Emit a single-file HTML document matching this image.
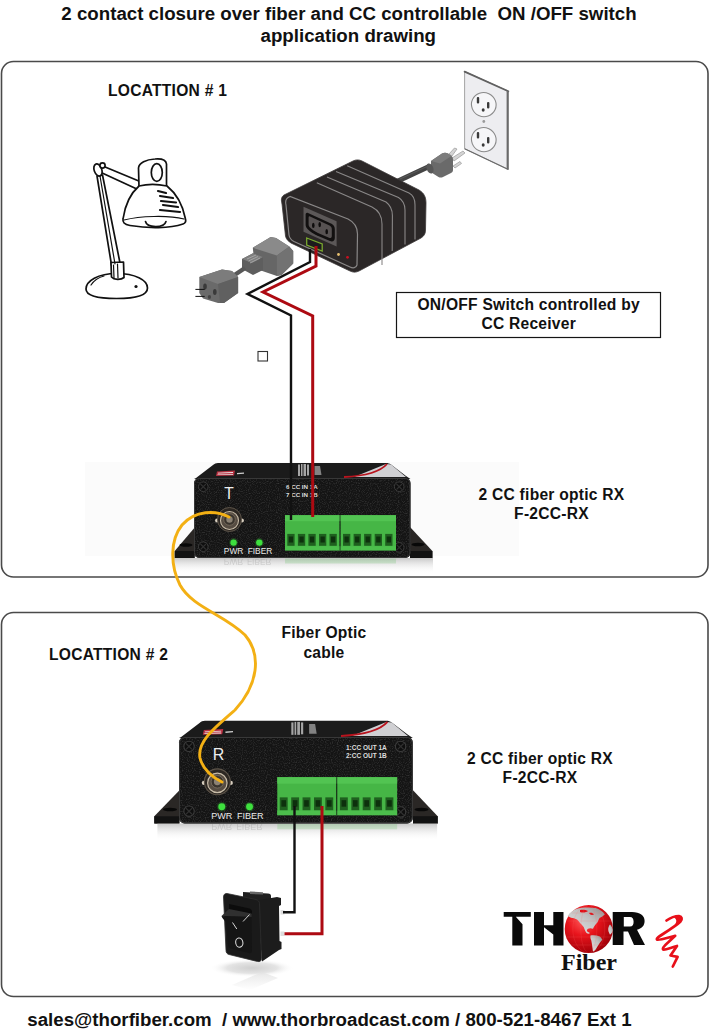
<!DOCTYPE html>
<html><head><meta charset="utf-8">
<style>
html,body{margin:0;padding:0;background:#fff;width:709px;height:1032px;overflow:hidden}
svg{display:block}
text{white-space:pre;font-family:"Liberation Sans",sans-serif;font-weight:bold;fill:#111}
</style></head><body>
<svg width="709" height="1032" viewBox="0 0 709 1032">
<rect x="0" y="0" width="709" height="1032" fill="#fff"/>
<defs>
<linearGradient id="refl" x1="0" y1="0" x2="0" y2="1"><stop offset="0" stop-color="#9a9a9a" stop-opacity="0.55"/><stop offset="1" stop-color="#fff" stop-opacity="0"/></linearGradient>
<radialGradient id="bncg" cx="0.45" cy="0.4" r="0.6"><stop offset="0" stop-color="#d8d0c4"/><stop offset="0.5" stop-color="#8a7f72"/><stop offset="1" stop-color="#3a3630"/></radialGradient>
<radialGradient id="ledg" cx="0.5" cy="0.5" r="0.5"><stop offset="0" stop-color="#b8ffb0"/><stop offset="0.5" stop-color="#3ad43a"/><stop offset="1" stop-color="#1a7a1a" stop-opacity="0.3"/></radialGradient>
<filter id="noise" x="0" y="0" width="100%" height="100%"><feTurbulence type="fractalNoise" baseFrequency="0.9" numOctaves="1" seed="3" result="t"/><feColorMatrix in="t" type="matrix" values="0 0 0 0 0.25  0 0 0 0 0.25  0 0 0 0 0.25  0 0 0 1.6 -0.75" result="n"/><feComposite in="n" in2="SourceGraphic" operator="in"/></filter>
</defs>

<rect x="85" y="462" width="434" height="94" fill="#fbfbfb"/>
<!-- title -->
<text x="349" y="20" font-size="18.7" text-anchor="middle">2 contact closure over fiber and CC controllable  ON /OFF switch</text>
<text x="348.3" y="42" font-size="18.7" text-anchor="middle">application drawing</text>
<!-- boxes -->
<rect x="1.5" y="61.5" width="706.5" height="515.5" rx="12" fill="none" stroke="#4a4a4a" stroke-width="1.6"/>
<rect x="1.5" y="612.5" width="706.5" height="384" rx="12" fill="none" stroke="#4a4a4a" stroke-width="1.6"/>
<!-- labels -->
<text x="108" y="96" font-size="15.6" letter-spacing="0.25">LOCATTION # 1</text>
<rect x="396.5" y="292.5" width="264" height="45" fill="#fff" stroke="#151515" stroke-width="1.2"/>
<text x="528.7" y="309.5" font-size="15.6" letter-spacing="0.25" text-anchor="middle">ON/OFF Switch controlled by</text>
<text x="528.7" y="329" font-size="15.6" letter-spacing="0.25" text-anchor="middle">CC Receiver</text>
<text x="551.5" y="500" font-size="15.6" letter-spacing="0.25" text-anchor="middle">2 CC fiber optic RX</text>
<text x="551.5" y="519" font-size="15.6" letter-spacing="0.25" text-anchor="middle">F-2CC-RX</text>
<text x="49" y="660" font-size="15.6" letter-spacing="0.25">LOCATTION # 2</text>
<text x="324" y="638.2" font-size="15.6" letter-spacing="0.25" text-anchor="middle">Fiber Optic</text>
<text x="324" y="657.6" font-size="15.6" letter-spacing="0.25" text-anchor="middle">cable</text>
<text x="540" y="763.5" font-size="15.6" letter-spacing="0.25" text-anchor="middle">2 CC fiber optic RX</text>
<text x="540" y="782.5" font-size="15.6" letter-spacing="0.25" text-anchor="middle">F-2CC-RX</text>


<!-- wall outlet -->
<polygon points="464.6,71.4 508.3,91.1 508.3,169.4 464.6,148.7" fill="#ededf0" stroke="#9a9a9a" stroke-width="0.9" stroke-linejoin="round"/>
<line x1="464.6" y1="71.6" x2="508.3" y2="91.3" stroke="#606060" stroke-width="1.8" stroke-linecap="round"/>
<line x1="507.6" y1="91.1" x2="507.6" y2="169.4" stroke="#6a6a6a" stroke-width="2"/>
<line x1="464.6" y1="148.7" x2="508.3" y2="169.4" stroke="#6a6a6a" stroke-width="1.1"/>
<g fill="#f6f6f8" stroke="#8a8a8a" stroke-width="1.1">
 <ellipse cx="483.8" cy="104.6" rx="12.4" ry="12" transform="rotate(25 483.8 104.6)"/>
 <ellipse cx="483.8" cy="139.6" rx="12.4" ry="12" transform="rotate(25 483.8 139.6)"/>
</g>
<g fill="#3a3a3a">
 <rect x="476.8" y="97" width="2.4" height="6.5" rx="1.1"/><rect x="487" y="102" width="2.4" height="6.5" rx="1.1"/><ellipse cx="483.2" cy="110" rx="1.5" ry="1.8"/>
 <rect x="476.8" y="132" width="2.4" height="6.5" rx="1.1"/><rect x="487" y="137" width="2.4" height="6.5" rx="1.1"/><ellipse cx="483.2" cy="145" rx="1.5" ry="1.8"/>
</g>
<circle cx="483.8" cy="121.5" r="1.4" fill="#9a9a9a"/>
<!-- plug + cord to wall -->
<g fill="#d4d4d4" stroke="#9a9a9a" stroke-width="0.7">
 <polygon points="449,154 454.5,148 457,149 452,156"/>
 <polygon points="452,158 463,151 465,153 454,161"/>
 <polygon points="453,166 460,161.5 461.5,163.5 455,168"/>
</g>
<line x1="398" y1="181" x2="428" y2="167" stroke="#444" stroke-width="5.2" stroke-linecap="round"/>
<line x1="400" y1="179" x2="427" y2="166.5" stroke="#6a6a6a" stroke-width="1" opacity="0.6"/>
<path d="M431,161 L442,153.5 C444,152.5 446,152.5 448,153.5 L451.5,156 C452.8,157 453,158.5 453,160 L453,170 C453,171.5 452,172.5 451,173 L443,177 C441.5,177.8 440,177.8 438.5,177 L433,173.5 C431.5,172.5 431,171 431,169.5 Z" fill="#6a6a6a"/>
<path d="M431,161 L442,153.5 C444,152.5 446,152.5 448,153.5 L451.5,156 L440,163.5 Z" fill="#7c7c7c"/>
<ellipse cx="430" cy="168.5" rx="3.3" ry="5.3" transform="rotate(-20 430 168.5)" fill="#585858"/>
<!-- power adapter -->
<path d="M284,195 C281,197 281,200 282,204 L285.5,236 C286,239 288,241 291,243 L350,271 C353,272.5 356,272.5 359,271 L421,238 C424,236 425.5,234 425.5,230 L426,203 C426,197 424,193 419,190 L362,161 C359,159.5 356,159.5 353,161 Z" fill="#2b2727" stroke="#3e3a3a" stroke-width="0.8"/>
<path d="M290,196.5 C286,198 285,201 286,205 L289,235 C289.5,238 291,240 294,241.5 L350,267 C353,268.5 356,268 357,265 L357.5,234 C357.5,227 354,222 348,219 Z" fill="none" stroke="#8a8888" stroke-width="1.2"/>
<g fill="none" stroke="#8a8888" stroke-width="1.1">
 <path d="M316.8,182.7 L372,207 C378,210 382,216 382,224 L382,265"/>
 <path d="M327,177 L386,202 C390,205 392.4,209 392.4,215.5 L392.2,251"/>
 <path d="M336,171.4 L398.5,197.5 C402.5,200 405,204 405,210 L405,244.5"/>
 <path d="M347.2,165.8 L409,193 C413,195 415,199 415,205 L415,239.5"/>
</g>
<polygon points="303.5,206.7 336.6,221.2 336.6,246.5 303.5,231.7" fill="#5c5858"/>
<path d="M308,213 L331,223.5 C333.5,224.7 334.8,226.5 334.8,229 L334.8,238 C334.8,241 332.5,242 330,241 L317,235.5 C314,234.2 310,231.5 307.5,229 C306,227.5 305.6,226 305.6,224 L305.6,215 C305.6,213.2 306.5,212.4 308,213 Z" fill="#121010"/>
<path d="M310,216.5 L329.5,225.5 C331,226.2 331.8,227.5 331.8,229 L331.8,236 C331.8,237.8 330.5,238.4 329,237.8 L318,233 C315,231.7 312,229.5 310,227.5 C309,226.5 308.6,225.5 308.6,224.2 L308.6,217.5 C308.6,216.5 309.2,216.1 310,216.5 Z" fill="#575252"/>
<g fill="#0e0c0c"><ellipse cx="313.3" cy="225.4" rx="1.3" ry="2.6"/><ellipse cx="319.7" cy="224.6" rx="1.3" ry="2.6"/><ellipse cx="326.7" cy="231.7" rx="1.3" ry="2.6"/></g>
<polygon points="306.7,238 322.2,244 322.2,251 306.7,245" fill="#1c1c1c" stroke="#7aa830" stroke-width="1.3"/>
<circle cx="338.5" cy="254.5" r="1.4" fill="#e8c070"/>
<circle cx="347.5" cy="257.3" r="1.4" fill="#c81020"/>
<!-- gray connectors -->
<polygon points="252.8,247.8 270.7,237 276,238 289.3,246.5 293.2,251 293.2,263.4 281.5,275 276.9,276 255,268.5" fill="#666"/>
<polygon points="252.8,247.8 270.7,237 276,238 289.3,246.5 276.9,255.6" fill="#8a8a8a"/>
<polygon points="276.9,255.6 289.3,246.5 293.2,251 293.2,263.4 281.5,275 276.9,276" fill="#727272"/>
<polygon points="242,259 253,253.3 263,257 263,270 253,275 242,269" fill="#5e5e5e"/>
<polygon points="242,259 253,253.3 263,257 252,263" fill="#7e7e7e"/>
<g stroke="#a8a8a8" stroke-width="0.9"><line x1="247" y1="259" x2="256" y2="255"/><line x1="248.5" y1="261" x2="258" y2="256.5"/><line x1="250" y1="263" x2="260" y2="258"/></g>
<line x1="233" y1="276" x2="245" y2="268" stroke="#585858" stroke-width="4.5"/>
<polygon points="199.3,277 222,269.6 232,271 238.1,277 238.1,293 224,302.9 218,303 203,298.5 199.3,293" fill="#6a6a6a"/>
<polygon points="199.3,277 222,269.6 232,271 238.1,277 218,284" fill="#7c7c7c"/>
<polygon points="218,284 238.1,277 238.1,293 224,302.9 220,303" fill="#606060"/>
<ellipse cx="205" cy="286.6" rx="1.8" ry="3" fill="#3a3a3a"/><ellipse cx="214.8" cy="292" rx="1.8" ry="3" fill="#3a3a3a"/><ellipse cx="209.4" cy="297" rx="1.6" ry="2" fill="#444"/>
<g stroke="#111" stroke-width="1"><line x1="195.4" y1="289.4" x2="204.7" y2="289.4"/><line x1="195.4" y1="296.4" x2="204.7" y2="296.4"/></g>
<!-- lamp -->

<g fill="#fff" stroke="#111" stroke-width="1.7" stroke-linejoin="round" stroke-linecap="round">
 <path d="M86,289 C86,281 98,273.5 116.5,273.5 C135,273.5 147.5,280 147.5,288 C147.5,295 136,298.5 116.5,298.5 C98,298.5 86,296 86,289 Z"/>
 <path d="M97,176 L111.5,265 L120,263 L102.5,175 Z"/>
 <path d="M101.5,165.5 L140,181.5 L139,190 L100,172 Z"/>
 <path d="M111,262.5 L111.5,277 C114,280 121,280 124,277.5 L123.5,262 Z"/>
 <ellipse cx="98" cy="170" rx="3.8" ry="6.3" transform="rotate(-20 98 170)"/>
 <path d="M139,187 L138.5,168 C139,163 146,159.5 155,159 C161,158.5 166,160 166.5,164 L166.5,186 Z"/>
 <path d="M139,186 C131,193 125,205 123,219 C122.5,222 124,224.5 130,225.5 C148,228.5 170,228.5 183,224 C186,223 186,221 185.5,219 C183,206 177,194 167,186 C158,184 147,184 139,186 Z"/>
 <ellipse cx="156.8" cy="172.5" rx="5.5" ry="8.8"/>
 <path d="M145.5,221.5 C147,228 164,228.5 166,221.5"/>
 <circle cx="102.5" cy="165.5" r="2.6"/>
</g>
<g stroke="#111" stroke-width="1.2" fill="none" stroke-linecap="round">
 <path d="M124,220 C140,216 168,215 184,219"/>
 <path d="M113.5,265 L114,278"/><path d="M117.5,264 L118,278"/>
 <path d="M100,176 L115,264"/>
 <path d="M91,285 C95,279 100,277 104,276"/>
</g>
<g stroke="#111" stroke-width="2.2" fill="none" stroke-linecap="round">
 <path d="M158,191 L166,193"/><path d="M160,196 L173,198"/><path d="M161,201 L176,202.5"/><path d="M163,205 L178,207"/><path d="M160,210 L180,212"/>
</g>
<circle cx="136" cy="286.5" r="1.6" fill="#111"/>
<!-- rocker switch -->
<defs><radialGradient id="shd" cx="0.5" cy="0.5" r="0.5"><stop offset="0" stop-color="#cfcfcf"/><stop offset="0.6" stop-color="#e4e4e4"/><stop offset="1" stop-color="#fff" stop-opacity="0"/></radialGradient>
<linearGradient id="swr" x1="0" y1="0" x2="0" y2="1"><stop offset="0" stop-color="#e2e2e2"/><stop offset="1" stop-color="#fff"/></linearGradient></defs>
<ellipse cx="252" cy="968" rx="42" ry="9" fill="url(#shd)"/>
<polygon points="232,985 262,972 278,978 250,990" fill="url(#swr)" opacity="0.8"/>
<path d="M243,892 L268,893.5 C270,893.6 271,894.5 271,896 L271,902 L243,900 Z" fill="#202020"/>
<path d="M250,891.5 L263,892.3 L263,894.5 L250,894 Z" fill="#666"/>
<path d="M257,900.5 L277,897 L281,898 L281,905 L279,906 L279.5,941 L281.5,942 L281.5,949 L279,950 L262,961.5 Z" fill="#1c1c1c"/>
<g fill="#ddd"><rect x="280.5" y="910" width="4" height="4.5"/><rect x="280.5" y="931.5" width="4" height="4.5"/></g>
<path d="M227,893.5 L256,899.5 C258,900 259.5,901.5 259.5,903.5 L261.5,958.5 C261.5,961 260,962 257.5,961.5 L229,954.5 C227,954 226,952.5 226,950.5 L223.5,897 C223.5,894.5 225,893.2 227,893.5 Z" fill="#1a1a1a" stroke="#2e2e2e" stroke-width="0.8"/>
<path d="M229,904 L249.5,908.5 C251,909 252,910 252,911.5 L252,914 L229,910 Z" fill="#0c0c0c"/>
<path d="M229,909 L251.5,913.5 L251.5,917 L221.5,916 Z" fill="#303030"/>
<path d="M221.5,916 L251.5,917 L252,951 C252,953 250.5,953.5 249,953 L231,948.5 C229,948 228,946.5 228,944.5 L226,922 C224,920 222,918 221.5,916 Z" fill="#151515"/>
<line x1="243" y1="921.5" x2="249.5" y2="914.5" stroke="#cfcfcf" stroke-width="1"/>
<line x1="232.5" y1="922.5" x2="236.8" y2="929" stroke="#d8d8d8" stroke-width="1"/>
<ellipse cx="239.3" cy="942.6" rx="3.6" ry="4.6" fill="none" stroke="#d8d8d8" stroke-width="1.1" transform="rotate(-10 239.3 942.6)"/>
<!-- logo -->
<defs>
<radialGradient id="globe" cx="0.38" cy="0.32" r="0.7"><stop offset="0" stop-color="#ff5a5a"/><stop offset="0.45" stop-color="#e8141c"/><stop offset="1" stop-color="#a00008"/></radialGradient>
<linearGradient id="land" x1="0" y1="1" x2="1" y2="0"><stop offset="0" stop-color="#e6e6e6"/><stop offset="0.6" stop-color="#c0c0c0"/><stop offset="1" stop-color="#8c8c8c"/></linearGradient>
</defs>
<g fill="#0a0a0a">
 <path d="M503.7,911.9 L530.8,911.9 L530.8,916.8 L515.8,916.8 L522.5,924.2 L522.5,945.5 L512.3,945.5 L512.3,916.8 L503.7,916.8 Z"/>
 <path d="M534,911.9 L544,911.9 L544,925.2 L553.3,925.2 L553.3,911.9 L563.5,911.9 L563.5,945.5 L553.3,945.5 L553.3,934.6 L544,927.2 L544,945.5 L534,945.5 Z"/>
 <path d="M612.7,912 L632,912 C640,912 644.6,915.5 644.6,921 C644.6,926 641.5,928.5 637,929.8 L645,945 L634,945 L628,931.5 L623.5,931.5 L623.5,945 L612.7,945 Z M623.8,917 L623.8,926.6 L630,926.6 C632.6,926.6 633.6,924.8 633.6,921.8 C633.6,918.6 632.4,917 630,917 Z" fill-rule="evenodd"/>
</g>
<circle cx="588.8" cy="929" r="24.1" fill="url(#globe)"/>
<g fill="url(#land)">
 <path d="M567.6,916 C570,912 574,909.5 578,908.5 C581,907.8 584,907.6 586,907.6 C589,907.4 592,907.6 595.5,908 C599,909 603,911.5 604.8,914.4 C603,916 601.5,917 599.8,917.8 C598.5,919.5 598,921.5 597.2,922.8 C595.5,924.5 594,926.5 593,928.8 C591,928 589.5,928 588,928.8 C587,929.5 586.8,930.5 587,931.3 C588,932 589,932.5 590,933 C589,934 588,934 586.5,933 C585,931 584.5,929 583.7,927 C581,924 579,921.5 577,919.5 C575,918.5 573,918 571,917.8 Z"/>
 <path d="M590.5,935.5 C594,935 597,935.5 599.8,936.4 C601,937.5 602,938.5 602.3,939.8 C600,942 598,946 596,949 C595,950.5 594,951.5 593,951.6 C592.5,948 592,944 591.3,940.6 C590.5,939 590.2,937 590.5,935.5 Z"/>
 <path d="M580,910 C583,909.5 586,910 588,911 C586,912.5 583,913 580,912 Z" fill="#e01018"/><path d="M589,913 C591,912.5 593,913 594,914.5 C592,915.5 590,915 589,913 Z" fill="#e01018"/>
 <path d="M610,924.5 C611.5,926 612.5,928 612.8,930 C612.5,932 611.5,933.5 610,934.7 C609,933 608.2,931 608.2,929 C608.5,927 609,925.5 610,924.5 Z"/>
</g>
<clipPath id="gclip"><circle cx="588.8" cy="929" r="23.5"/></clipPath>
<g stroke="#ff6a6a" stroke-width="0.35" fill="none" opacity="0.5" clip-path="url(#gclip)">
 <ellipse cx="588.8" cy="929" rx="8" ry="24"/><ellipse cx="588.8" cy="929" rx="16" ry="24"/>
 <line x1="565" y1="921" x2="612.6" y2="921"/><line x1="565" y1="937" x2="612.6" y2="937"/><line x1="567" y1="913" x2="610" y2="913"/><line x1="567" y1="945" x2="610" y2="945"/>
</g>
<text x="589" y="969.6" font-size="24" text-anchor="middle" style="fill:#111;font-family:'Liberation Serif',serif;font-weight:bold">Fiber</text>
<path d="M666.5,920.5 C670,918 675,916 679,916 C682,916.5 682.5,919 680.5,921.5 C677,925 670,929.5 663,934 C659,936.5 656,938.5 657,939.6 C659,940.5 668,937.5 675.2,935.8 L668,942.4 C665,945 662,947.5 663,949.5 C664.5,950.5 671,947.5 677,946 L670.5,955.5 L677.6,956.8 L672.8,966.5" fill="none" stroke="#e8101a" stroke-width="2.7" stroke-linejoin="round" stroke-linecap="round"/>
<path d="M674,917.5 C678,915.5 682,916 682,919 C681,922 677,924 674,926 C676,923 678,920 674,917.5 Z" fill="#e8101a"/>
<!-- RX1 -->
<polygon points="194.5,527.7 174.7,551 174.7,558 194.5,558" fill="#2a2725"/>
<rect x="174.7" y="551" width="20" height="7" fill="#121212"/>
<ellipse cx="186" cy="545" rx="6.5" ry="1.7" fill="#080808"/>
<polygon points="410,527 432.4,551 432.4,558 410,558" fill="#2a2725"/>
<rect x="410" y="551" width="22.4" height="7" fill="#121212"/>
<ellipse cx="418" cy="544.5" rx="6.5" ry="1.7" fill="#080808"/>
<g transform="translate(194,478)">
 <rect x="-20" y="80" width="259" height="16" fill="url(#refl)"/>
 <g opacity="0.2"><rect x="91" y="80.5" width="111" height="5" fill="#4cbc4c"/>
 <g transform="translate(0,157) scale(1,-1)"><text x="39.6" y="76" font-size="8.4" style="fill:#666;font-weight:normal" text-anchor="middle">PWR</text><text x="65.3" y="76" font-size="8.4" style="fill:#666;font-weight:normal" text-anchor="middle">FIBER</text></g></g>
 <path d="M2,0 L19,-13 C20.5,-14.3 22,-15 24,-15 L192,-15 C194,-15 195.5,-14.5 197,-13.5 L212,-2 L216.5,1 L0,1 Z" fill="#1b1b1b"/>
 <polygon points="160,-1 192,-14 197,-13.5 212,-1" fill="#d0d0d3"/>
 <path d="M150,-1 C170,-2 186,-6 193,-14" stroke="#b8141e" stroke-width="1.8" fill="none"/>
 <polygon points="23,-6.5 41,-7.5 40,-2.5 22,-2" fill="#b83040"/>
 <polygon points="24,-5.2 39,-5.9 39,-5 24,-4.4" fill="#e8e8e8"/><polygon points="23.5,-3.6 39,-4.1 39,-3.3 23.5,-2.9" fill="#e8e8e8"/><polygon points="43,-5 50,-5.5 50,-4.3 43,-3.8" fill="#d0d0d0"/>
 <g fill="#c8c8c8" opacity="0.8"><rect x="104" y="-13.5" width="2" height="11.5"/><rect x="107" y="-14" width="1.5" height="12"/><rect x="109.5" y="-14" width="2.5" height="12"/><rect x="113" y="-13.5" width="2" height="11"/><polygon points="120.5,-12 126,-12 127.5,-3 120.5,-3" opacity="0.75"/></g>
 <rect x="0" y="0" width="216.5" height="80" rx="5" fill="#141414"/>
 <rect x="0" y="0" width="216.5" height="80" rx="5" fill="#3a3a3a" filter="url(#noise)" opacity="0.5"/>
 <rect x="0.5" y="0.5" width="215.5" height="79" rx="5" fill="none" stroke="#383838" stroke-width="1"/>
 <g fill="#0e0e0e" stroke="#3c3c3c" stroke-width="1">
  <circle cx="9.3" cy="8.7" r="4.8"/><circle cx="9.3" cy="68.7" r="4.8"/>
  <circle cx="205.2" cy="8.7" r="4.8"/><circle cx="205.2" cy="69.4" r="4.8"/>
 </g>
 <g stroke="#303030" stroke-width="1.1">
  <path d="M6.5,6 L12,11.5 M12,6 L6.5,11.5"/><path d="M6.5,66 L12,71.5 M12,66 L6.5,71.5"/>
  <path d="M202.5,6 L208,11.5 M208,6 L202.5,11.5"/><path d="M202.5,66.7 L208,72.2 M208,66.7 L202.5,72.2"/>
 </g>
 <circle cx="23" cy="42.5" r="1.9" fill="#d8cfc0"/><circle cx="48" cy="42.5" r="1.9" fill="#d8cfc0"/>
 <circle cx="35.5" cy="41.5" r="12" fill="#2c2722" stroke="#5e554a" stroke-width="1"/>
 <circle cx="35.5" cy="42.5" r="9" fill="#564c42" stroke="#c8bca8" stroke-width="1.1"/>
 <circle cx="35.5" cy="41.5" r="5.8" fill="#3a342d" stroke="#7a6e60" stroke-width="0.8"/>
 <circle cx="35.5" cy="41.5" r="3.2" fill="#8c8274"/>
 <circle cx="39.6" cy="64.6" r="4.5" fill="#2a8a2a" opacity="0.35"/>
 <circle cx="65.3" cy="64.6" r="4.5" fill="#2a8a2a" opacity="0.35"/>
 <circle cx="39.6" cy="64.6" r="3.2" fill="#3ee03e"/>
 <circle cx="65.3" cy="64.6" r="3.2" fill="#3ee03e"/>
 <text x="39.6" y="76" font-size="8.4" text-anchor="middle" style="fill:#eaeaea;font-weight:normal">PWR</text>
 <text x="66" y="76" font-size="8.4" text-anchor="middle" style="fill:#eaeaea;font-weight:normal">FIBER</text>
 <rect x="91" y="37.2" width="54.6" height="35.2" fill="#46b646"/>
 <rect x="146.4" y="37.2" width="55.6" height="35.2" fill="#46b646"/>
 <rect x="91" y="37.2" width="111" height="6" fill="#52c452"/>
 <rect x="91" y="68.2" width="111" height="4.2" fill="#4cbe4c"/>
 <rect x="145.6" y="37.2" width="0.9" height="35.2" fill="#1a3a1a"/>
 <g fill="#1f5f1f">
  <rect x="93.3" y="55.9" width="7.3" height="11.9"/><rect x="103.9" y="55.9" width="7.3" height="11.9"/><rect x="114.4" y="55.9" width="7.3" height="11.9"/><rect x="125" y="55.9" width="7.3" height="11.9"/><rect x="135.5" y="55.9" width="7.3" height="11.9"/>
  <rect x="149" y="55.9" width="7.3" height="11.9"/><rect x="159.6" y="55.9" width="7.3" height="11.9"/><rect x="170.1" y="55.9" width="7.3" height="11.9"/><rect x="180.7" y="55.9" width="7.3" height="11.9"/><rect x="191.2" y="55.9" width="7.3" height="11.9"/>
 </g>
 <g fill="#0d300d">
  <rect x="94.8" y="58.5" width="4.3" height="6"/><rect x="105.4" y="58.5" width="4.3" height="6"/><rect x="115.9" y="58.5" width="4.3" height="6"/><rect x="126.5" y="58.5" width="4.3" height="6"/><rect x="137" y="58.5" width="4.3" height="6"/>
  <rect x="150.5" y="58.5" width="4.3" height="6"/><rect x="161.1" y="58.5" width="4.3" height="6"/><rect x="171.6" y="58.5" width="4.3" height="6"/><rect x="182.2" y="58.5" width="4.3" height="6"/><rect x="192.7" y="58.5" width="4.3" height="6"/>
 </g>
</g>
<text x="229" y="499.3" font-size="15.6" style="fill:#eee;font-weight:normal" text-anchor="middle">T</text>
<text x="286" y="489" font-size="6.2" style="fill:#ddd;font-weight:bold">6 CC IN 1A</text>
<text x="286" y="496.5" font-size="6.2" style="fill:#ddd;font-weight:bold">7 CC IN 1B</text>
<!-- RX2 -->
<polygon points="179.5,790.2 154.3,816.3 154.3,823.5 179.5,823.5" fill="#2a2725"/>
<rect x="154.3" y="816.3" width="25" height="7.2" fill="#121212"/>
<ellipse cx="170" cy="809.5" rx="7" ry="1.8" fill="#080808"/>
<polygon points="413,790.2 437.7,816.2 437.7,823.5 413,823.5" fill="#2a2725"/>
<rect x="413" y="816.2" width="24.7" height="7.3" fill="#121212"/>
<ellipse cx="421.5" cy="809.5" rx="7" ry="1.8" fill="#080808"/>
<g transform="translate(179,737) scale(1.08)">
 <rect x="-20" y="80" width="259" height="16" fill="url(#refl)"/>
 <g opacity="0.2"><rect x="91" y="80.5" width="111" height="5" fill="#4cbc4c"/>
 <g transform="translate(0,157) scale(1,-1)"><text x="39.6" y="76" font-size="8.4" style="fill:#666;font-weight:normal" text-anchor="middle">PWR</text><text x="65.3" y="76" font-size="8.4" style="fill:#666;font-weight:normal" text-anchor="middle">FIBER</text></g></g>
 <path d="M2,0 L19,-13 C20.5,-14.3 22,-15 24,-15 L192,-15 C194,-15 195.5,-14.5 197,-13.5 L212,-2 L216.5,1 L0,1 Z" fill="#1b1b1b"/>
 <polygon points="160,-1 192,-14 197,-13.5 212,-1" fill="#d0d0d3"/>
 <path d="M150,-1 C170,-2 186,-6 193,-14" stroke="#b8141e" stroke-width="1.8" fill="none"/>
 <polygon points="23,-6.5 41,-7.5 40,-2.5 22,-2" fill="#b83040"/>
 <polygon points="24,-5.2 39,-5.9 39,-5 24,-4.4" fill="#e8e8e8"/><polygon points="23.5,-3.6 39,-4.1 39,-3.3 23.5,-2.9" fill="#e8e8e8"/><polygon points="43,-5 50,-5.5 50,-4.3 43,-3.8" fill="#d0d0d0"/>
 <g fill="#c8c8c8" opacity="0.8"><rect x="104" y="-13.5" width="2" height="11.5"/><rect x="107" y="-14" width="1.5" height="12"/><rect x="109.5" y="-14" width="2.5" height="12"/><rect x="113" y="-13.5" width="2" height="11"/><polygon points="120.5,-12 126,-12 127.5,-3 120.5,-3" opacity="0.75"/></g>
 <rect x="0" y="0" width="216.5" height="80" rx="5" fill="#141414"/>
 <rect x="0" y="0" width="216.5" height="80" rx="5" fill="#3a3a3a" filter="url(#noise)" opacity="0.5"/>
 <rect x="0.5" y="0.5" width="215.5" height="79" rx="5" fill="none" stroke="#383838" stroke-width="1"/>
 <g fill="#0e0e0e" stroke="#3c3c3c" stroke-width="1">
  <circle cx="9.3" cy="8.7" r="4.8"/><circle cx="9.3" cy="68.7" r="4.8"/>
  <circle cx="205.2" cy="8.7" r="4.8"/><circle cx="205.2" cy="69.4" r="4.8"/>
 </g>
 <g stroke="#303030" stroke-width="1.1">
  <path d="M6.5,6 L12,11.5 M12,6 L6.5,11.5"/><path d="M6.5,66 L12,71.5 M12,66 L6.5,71.5"/>
  <path d="M202.5,6 L208,11.5 M208,6 L202.5,11.5"/><path d="M202.5,66.7 L208,72.2 M208,66.7 L202.5,72.2"/>
 </g>
 <circle cx="23" cy="42.5" r="1.9" fill="#d8cfc0"/><circle cx="48" cy="42.5" r="1.9" fill="#d8cfc0"/>
 <circle cx="35.5" cy="41.5" r="12" fill="#2c2722" stroke="#5e554a" stroke-width="1"/>
 <circle cx="35.5" cy="42.5" r="9" fill="#564c42" stroke="#c8bca8" stroke-width="1.1"/>
 <circle cx="35.5" cy="41.5" r="5.8" fill="#3a342d" stroke="#7a6e60" stroke-width="0.8"/>
 <circle cx="35.5" cy="41.5" r="3.2" fill="#8c8274"/>
 <circle cx="39.6" cy="64.6" r="4.5" fill="#2a8a2a" opacity="0.35"/>
 <circle cx="65.3" cy="64.6" r="4.5" fill="#2a8a2a" opacity="0.35"/>
 <circle cx="39.6" cy="64.6" r="3.2" fill="#3ee03e"/>
 <circle cx="65.3" cy="64.6" r="3.2" fill="#3ee03e"/>
 <text x="39.6" y="76" font-size="8.4" text-anchor="middle" style="fill:#eaeaea;font-weight:normal">PWR</text>
 <text x="66" y="76" font-size="8.4" text-anchor="middle" style="fill:#eaeaea;font-weight:normal">FIBER</text>
 <rect x="91" y="37.2" width="54.6" height="35.2" fill="#46b646"/>
 <rect x="146.4" y="37.2" width="55.6" height="35.2" fill="#46b646"/>
 <rect x="91" y="37.2" width="111" height="6" fill="#52c452"/>
 <rect x="91" y="68.2" width="111" height="4.2" fill="#4cbe4c"/>
 <rect x="145.6" y="37.2" width="0.9" height="35.2" fill="#1a3a1a"/>
 <g fill="#1f5f1f">
  <rect x="93.3" y="55.9" width="7.3" height="11.9"/><rect x="103.9" y="55.9" width="7.3" height="11.9"/><rect x="114.4" y="55.9" width="7.3" height="11.9"/><rect x="125" y="55.9" width="7.3" height="11.9"/><rect x="135.5" y="55.9" width="7.3" height="11.9"/>
  <rect x="149" y="55.9" width="7.3" height="11.9"/><rect x="159.6" y="55.9" width="7.3" height="11.9"/><rect x="170.1" y="55.9" width="7.3" height="11.9"/><rect x="180.7" y="55.9" width="7.3" height="11.9"/><rect x="191.2" y="55.9" width="7.3" height="11.9"/>
 </g>
 <g fill="#0d300d">
  <rect x="94.8" y="58.5" width="4.3" height="6"/><rect x="105.4" y="58.5" width="4.3" height="6"/><rect x="115.9" y="58.5" width="4.3" height="6"/><rect x="126.5" y="58.5" width="4.3" height="6"/><rect x="137" y="58.5" width="4.3" height="6"/>
  <rect x="150.5" y="58.5" width="4.3" height="6"/><rect x="161.1" y="58.5" width="4.3" height="6"/><rect x="171.6" y="58.5" width="4.3" height="6"/><rect x="182.2" y="58.5" width="4.3" height="6"/><rect x="192.7" y="58.5" width="4.3" height="6"/>
 </g>
</g>
<text x="218.5" y="759.6" font-size="16" style="fill:#eee;font-weight:normal" text-anchor="middle">R</text>
<text x="346" y="750" font-size="6.5" style="fill:#ddd;font-weight:bold">1:CC OUT 1A</text>
<text x="346" y="757.5" font-size="6.5" style="fill:#ddd;font-weight:bold">2:CC OUT 1B</text>
<!-- wires loc1 -->
<polyline points="310,249 310,262 247.5,294 291,315.5 291,520" fill="none" stroke="#111" stroke-width="2.4" stroke-linejoin="miter"/>
<polyline points="316,246 316,266 263,292 312.7,316 312.7,517" fill="none" stroke="#ad0a12" stroke-width="3" stroke-linejoin="miter"/>
<rect x="258" y="351.5" width="9.5" height="9.5" fill="#fff" stroke="#333" stroke-width="1.1"/>
<!-- fiber cable -->
<path d="M229,517 C216,510 195,510 182,525 C170,540 170,565 180,585 C192,607 225,615 245,635 C262,655 258,685 235,710 C214,728 197,742 200,758 C203,770 214,778 222,782" fill="none" stroke="#f3b014" stroke-width="2.9" stroke-linecap="round"/>
<!-- wires loc2 -->
<polyline points="294.5,806 294.5,912.3 283,912.3" fill="none" stroke="#111" stroke-width="2.4"/>
<polyline points="322,806 322,933.8 284.5,933.8" fill="none" stroke="#ad0a12" stroke-width="3"/>
<!-- footer -->
<text x="329.5" y="1025.6" font-size="18.7" text-anchor="middle">sales@thorfiber.com  / www.thorbroadcast.com / 800-521-8467 Ext 1</text>
</svg>
</body></html>
